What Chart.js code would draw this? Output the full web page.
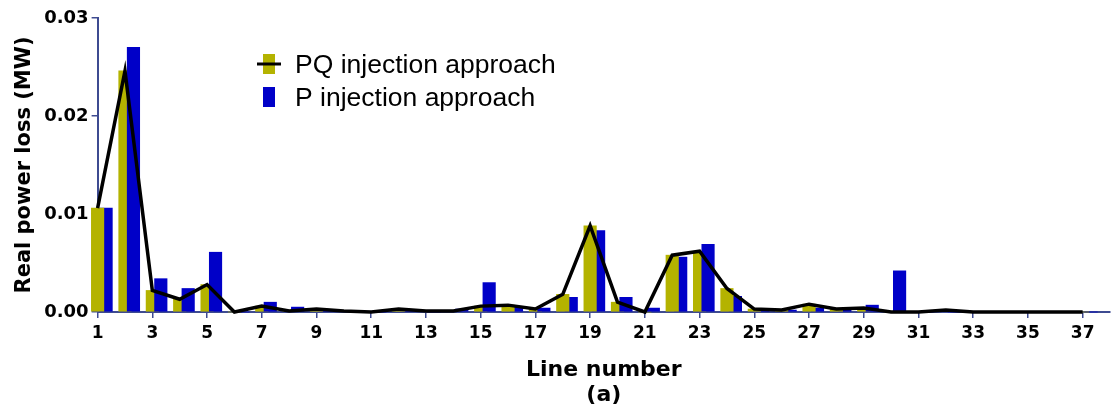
<!DOCTYPE html>
<html>
<head>
<meta charset="utf-8">
<script src="https://cdn.jsdelivr.net/npm/chart.js@4.4.0/dist/chart.umd.min.js"></script>
<style>
  html, body { margin: 0; padding: 0; background: #fff; }
</style>
</head>
<body>
<canvas id="myChart" width="1114" height="412"></canvas>
<script>
// line numbers on the x axis
var lineNumbers = [1, 2, 3, 4, 5, 6, 7, 8, 9, 10, 11, 12, 13, 14, 15, 16, 17, 18, 19, 20,
                   21, 22, 23, 24, 25, 26, 27, 28, 29, 30, 31, 32, 33, 34, 35, 36, 37];

// real power loss (MW), PQ injection approach
var pqLoss = [0.0106, 0.0246, 0.0022, 0.0013, 0.0028, 0, 0.0006, 0.0001, 0.0003, 0.0001,
              0, 0.0003, 0.0001, 0.0001, 0.0006, 0.0007, 0.0003, 0.0018, 0.0088, 0.0010,
              0, 0.0058, 0.0062, 0.0024, 0.0003, 0.0002, 0.0008, 0.0003, 0.0004, 0,
              0, 0.0002, 0, 0, 0, 0, 0];

// real power loss (MW), P injection approach
var pLoss = [0.0106, 0.0270, 0.0034, 0.0024, 0.0061, 0, 0.0010, 0.0005, 0.0001, 0.0001,
             0, 0.0001, 0, 0.0003, 0.0030, 0.0005, 0.0004, 0.0015, 0.0083, 0.0015,
             0.0004, 0.0056, 0.0069, 0.0016, 0.0001, 0.0002, 0.0004, 0.0002, 0.0007, 0.0042,
             0, 0, 0, 0, 0, 0, 0];

var xTickLabels = [1, 3, 5, 7, 9, 11, 13, 15, 17, 19, 21, 23, 25, 27, 29, 31, 33, 35, 37];
var yTickLabels = [0, 0.01, 0.02, 0.03];

var olive = 'rgb(180, 179, 0)';
var blue = 'rgb(0, 0, 200)';
var axisColor = 'rgb(62, 75, 145)';
var pShift = 0.31; // P bars sit a little to the right of the PQ bars

// the taller bar of each pair is drawn in front
function points(values, keep) {
    var list = [];
    values.forEach(function (v, i) {
        if (keep(i)) list.push({ x: lineNumbers[i], y: v });
    });
    return list;
}

var legendPlugin = {
    id: 'legendBox',
    afterDraw: function (chart) {
        var ctx = chart.ctx;
        ctx.save();
        // PQ marker: bar with line through it
        ctx.fillStyle = olive;
        ctx.fillRect(263, 54, 12, 20);
        ctx.strokeStyle = '#000';
        ctx.lineWidth = 3;
        ctx.beginPath();
        ctx.moveTo(257, 64);
        ctx.lineTo(281, 64);
        ctx.stroke();
        // P marker
        ctx.fillStyle = blue;
        ctx.fillRect(263, 87, 12, 20);
        ctx.fillStyle = '#000';
        ctx.font = '26.5px "Liberation Sans", Arial, sans-serif';
        ctx.textBaseline = 'alphabetic';
        ctx.fillText('PQ injection approach', 295, 73);
        ctx.fillText('P injection approach', 295, 106);
        ctx.restore();
    }
};

function barSet(label, values, keep, color, axisId, order) {
    return {
        label: label,
        data: points(values, keep),
        backgroundColor: color,
        barThickness: 12.5,
        grouped: false,
        xAxisID: axisId,
        order: order,
        clip: false
    };
}

var ctx = document.getElementById('myChart').getContext('2d');
var chart = new Chart(ctx, {
    type: 'bar',
    data: {
        datasets: [{
            type: 'line',
            label: 'PQ injection approach',
            data: points(pqLoss, function () { return true; }),
            borderColor: '#000',
            borderWidth: 3.5,
            pointRadius: 0,
            tension: 0,
            xAxisID: 'x',
            order: 0,
            clip: false
        },
        barSet('PQ front', pqLoss, function (i) { return pqLoss[i] >= pLoss[i]; }, olive, 'x', 1),
        barSet('P front', pLoss, function (i) { return pLoss[i] > pqLoss[i]; }, blue, 'xP', 1),
        barSet('PQ back', pqLoss, function (i) { return pqLoss[i] < pLoss[i]; }, olive, 'x', 2),
        barSet('P back', pLoss, function (i) { return pLoss[i] <= pqLoss[i]; }, blue, 'xP', 2)
        ]
    },
    options: {
        responsive: false,
        devicePixelRatio: 1,
        animation: false,
        layout: { padding: { left: 8, right: 4, top: 18, bottom: 4 } },
        plugins: {
            legend: { display: false },
            tooltip: { enabled: false }
        },
        scales: {
            x: {
                type: 'linear',
                position: 'bottom',
                offset: false,
                min: 1,
                max: 38,
                afterBuildTicks: function (axis) {
                    axis.ticks = xTickLabels.map(function (v) { return { value: v }; });
                },
                ticks: {
                    autoSkip: false,
                    maxRotation: 0,
                    padding: 5,
                    color: '#000',
                    font: { family: 'DejaVu Sans', weight: 'bold', size: 17 }
                },
                grid: { offset: false, drawOnChartArea: false, drawTicks: true, tickLength: 6, color: axisColor, lineWidth: 1.5 },
                border: { color: axisColor, width: 2 },
                title: {
                    display: true,
                    text: ['Line number', '(a)'],
                    color: '#000',
                    font: { family: 'DejaVu Sans', weight: 'bold', size: 22, lineHeight: 1.15 },
                    padding: { top: 9, bottom: 0 }
                }
            },
            xP: {
                type: 'linear',
                display: false,
                offset: false,
                min: 1 - pShift,
                max: 38 - pShift
            },
            y: {
                min: 0,
                max: 0.03,
                afterBuildTicks: function (axis) {
                    axis.ticks = yTickLabels.map(function (v) { return { value: v }; });
                },
                ticks: {
                    padding: 3,
                    color: '#000',
                    font: { family: 'DejaVu Sans', weight: 'bold', size: 18 },
                    callback: function (v) { return v.toFixed(2); }
                },
                grid: { drawOnChartArea: false, drawTicks: true, tickLength: 6, color: axisColor, lineWidth: 1.5 },
                border: { color: axisColor, width: 2 },
                title: {
                    display: true,
                    text: 'Real power loss (MW)',
                    color: '#000',
                    font: { family: 'DejaVu Sans', weight: 'bold', size: 21 },
                    padding: { top: 4, bottom: 4 }
                }
            }
        }
    },
    plugins: [legendPlugin]
});
</script>
</body>
</html>
